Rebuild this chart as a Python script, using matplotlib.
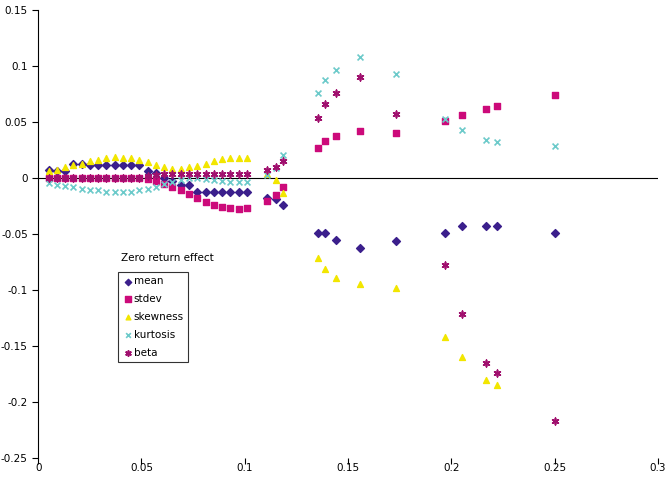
import numpy as np
import matplotlib.pyplot as plt

x = [0.005, 0.009, 0.013, 0.017, 0.021, 0.025, 0.029, 0.033, 0.037, 0.041,
     0.045, 0.049, 0.053, 0.057, 0.061, 0.065, 0.069, 0.073, 0.077, 0.081,
     0.085, 0.089, 0.093, 0.097, 0.101,
     0.111, 0.115, 0.1185, 0.1355, 0.139, 0.144, 0.156, 0.173, 0.197,
     0.205, 0.217, 0.222, 0.25]

mean = [0.007, 0.0065, 0.006, 0.0124, 0.013, 0.012, 0.012, 0.012, 0.012, 0.012,
        0.012, 0.012, 0.006, 0.005, 0.0, -0.0024, -0.006, -0.006, -0.012, -0.012,
        -0.012, -0.012, -0.012, -0.012, -0.012,
        -0.018, -0.019, -0.024, -0.049, -0.049, -0.055, -0.062, -0.056, -0.049,
        -0.043, -0.043, -0.043, -0.049]
stdev = [0, 0, 0, 0, 0, 0, 0, 0, 0, 0,
         0, 0, -0.0012, -0.003, -0.005, -0.008, -0.011, -0.014, -0.018, -0.021,
         -0.024, -0.026, -0.027, -0.028, -0.027,
         -0.02, -0.015, -0.008, 0.027, 0.033, 0.038, 0.042, 0.04, 0.051,
         0.056, 0.062, 0.064, 0.074]
skewness = [0.006, 0.007, 0.010, 0.012, 0.013, 0.015, 0.016, 0.018, 0.019, 0.018,
            0.018, 0.016, 0.014, 0.012, 0.0095, 0.008, 0.008, 0.0095, 0.011, 0.013,
            0.015, 0.017, 0.018, 0.018, 0.018,
            0.004, -0.002, -0.013, -0.071, -0.081, -0.089, -0.095, -0.098, -0.142,
            -0.16, -0.18, -0.185, np.nan]
kurtosis = [-0.0047, -0.0059, -0.0071, -0.0083, -0.0095, -0.011, -0.011, -0.012, -0.012, -0.012,
            -0.012, -0.011, -0.010, -0.0083, -0.0053, -0.0036, -0.0018, 0.0, 0.0, -0.0006,
            -0.0018, -0.003, -0.0038, -0.0038, -0.0036,
            0.003, 0.009, 0.021, 0.076, 0.088, 0.097, 0.108, 0.093, 0.053,
            0.043, 0.034, 0.032, 0.029]
beta = [0, 0, 0, 0, 0, 0, 0, 0, 0, 0,
        0, 0, 0.002, 0.003, 0.0035, 0.0035, 0.0035, 0.004, 0.004, 0.004,
        0.004, 0.004, 0.004, 0.004, 0.004,
        0.007, 0.01, 0.015, 0.054, 0.066, 0.076, 0.09, 0.057, -0.078,
        -0.121, -0.165, -0.174, -0.217]

fig = plt.figure(figsize=(6.7, 4.86), dpi=100)
ax = fig.add_axes([0.057, 0.0576, 0.925, 0.9214])

ax.axhline(0, color="black", lw=0.8, zorder=1)
ax.scatter(x, mean, marker="D", s=16, color="#3B1F8C", label="mean", zorder=3)
ax.scatter(x, stdev, marker="s", s=22, color="#CC0A7A", label="stdev", zorder=3)
ax.scatter(x, skewness, marker="^", s=18, color="#F2E600", label="skewness", zorder=3)
ax.scatter(x, kurtosis, marker="x", s=18, color="#6CCACA", lw=1.2, label="kurtosis", zorder=3)
ax.scatter(x, beta, marker=(6, 2, 0), s=22, color="#A0106E", lw=1.2, label="beta", zorder=3)

ax.set_xlim(0, 0.3)
ax.set_ylim(-0.25, 0.15)
ax.set_xticks(np.arange(0, 0.301, 0.05))
ax.set_xticklabels(["0", "0.05", "0.1", "0.15", "0.2", "0.25", "0.3"])
ax.set_yticks(np.arange(-0.25, 0.151, 0.05))
ax.set_yticklabels(["-0.25", "-0.2", "-0.15", "-0.1", "-0.05", "0", "0.05", "0.1", "0.15"])
ax.tick_params(axis="x", length=0, labelsize=7.5)
ax.tick_params(axis="y", direction="out", length=4, labelsize=7.5)
for s in ["top", "right", "bottom"]:
    ax.spines[s].set_visible(False)

sec = ax.secondary_xaxis(0)
sec.set_xticks(np.arange(0, 0.301, 0.05))
sec.tick_params(direction="out", length=4, labelbottom=False)
sec.spines["bottom"].set_visible(False)

ax.text(0.208, 0.446, "Zero return effect", transform=ax.transAxes, fontsize=7.5, ha="center", va="center")
leg = ax.legend(loc="upper left", bbox_to_anchor=(0.129, 0.415), fontsize=7.5, frameon=True,
                fancybox=False, edgecolor="black", handletextpad=0.1, handlelength=1.0,
                borderpad=0.4, labelspacing=0.75, markerscale=0.8, borderaxespad=0)
leg.get_frame().set_linewidth(0.8)

fig.savefig("out.png", dpi=100)
